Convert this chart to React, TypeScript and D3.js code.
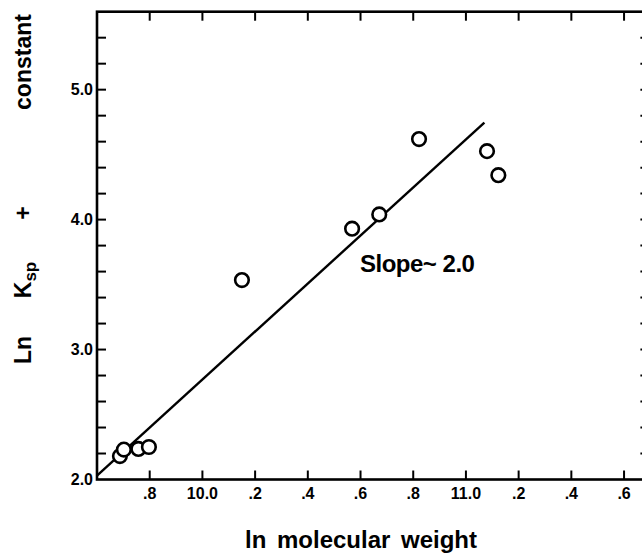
import * as d3 from "d3";

// ln molecular weight vs ln Ksp + constant
const lnMW = [9.687, 9.702, 9.757, 9.797, 10.15, 10.568, 10.671, 10.822, 11.08, 11.123];
const lnKsp = [2.18, 2.23, 2.235, 2.25, 3.535, 3.93, 4.04, 4.62, 4.527, 4.342];

// fitted line end points
const fitX = [9.6, 11.07];
const fitY = [2.03, 4.746];

const xTicks = [9.8, 10.0, 10.2, 10.4, 10.6, 10.8, 11.0, 11.2, 11.4, 11.6];
const xTickLabels = [".8", "10.0", ".2", ".4", ".6", ".8", "11.0", ".2", ".4", ".6"];
const yTicks = [2, 3, 4, 5];
const yTickLabels = ["2.0", "3.0", "4.0", "5.0"];
const yMinor = [2.2, 2.4, 2.6, 2.8, 3.0, 3.2, 3.4, 3.6, 3.8, 4.0, 4.2, 4.4, 4.6, 4.8, 5.0, 5.2, 5.4];

const W = 642;
const H = 555;
const FONT = "'Liberation Sans', Arial, sans-serif";

export default function App() {
  const x = d3.scaleLinear().domain([9.6, 11.7]).range([97, 650.4]);
  const y = d3.scaleLinear().domain([2, 5.6]).range([479.5, 11.7]);

  const [x0, x1] = x.range();
  const [yb, yt] = y.range();

  const line = d3
    .line<number>()
    .x((d) => x(d))
    .y((_, i) => y(fitY[i]));

  const tick = 9;

  return (
    <svg
      width={W}
      height={H}
      style={{ position: "absolute", left: 0, top: 0, background: "#fff" }}
      fontFamily={FONT}
    >
      {/* frame */}
      <rect x={x0} y={yt} width={x1 - x0} height={yb - yt} fill="none" stroke="#000" strokeWidth={2.6} />

      {/* x ticks, bottom and top, pointing inward */}
      {xTicks.map((t, i) => (
        <g key={"xt" + i}>
          <line x1={x(t)} x2={x(t)} y1={yb} y2={yb - tick} stroke="#000" strokeWidth={2} />
          <line x1={x(t)} x2={x(t)} y1={yt} y2={yt + tick} stroke="#000" strokeWidth={2} />
          <text x={x(t)} y={yb + 19} textAnchor="middle" fontSize={16} fontWeight="bold">
            {xTickLabels[i]}
          </text>
        </g>
      ))}

      {/* y ticks, left and right */}
      {yMinor.map((t, i) => (
        <g key={"yt" + i}>
          <line x1={x0} x2={x0 + tick} y1={y(t)} y2={y(t)} stroke="#000" strokeWidth={2} />
          <line x1={x1} x2={x1 - tick - 1} y1={y(t)} y2={y(t)} stroke="#000" strokeWidth={2} />
        </g>
      ))}
      {yTicks.map((t, i) => (
        <text key={"yl" + i} x={x0 - 4} y={y(t)} dy="0.36em" textAnchor="end" fontSize={16} fontWeight="bold">
          {yTickLabels[i]}
        </text>
      ))}

      {/* fitted line */}
      <path d={line(fitX) || ""} fill="none" stroke="#000" strokeWidth={2.4} />

      {/* data points */}
      {lnMW.map((d, i) => (
        <circle key={"p" + i} cx={x(d)} cy={y(lnKsp[i])} r={6.8} fill="#fff" stroke="#000" strokeWidth={2.6} />
      ))}

      <text x={360} y={272} fontSize={24} fontWeight="bold" letterSpacing={-0.5}>
        Slope~ 2.0
      </text>

      {/* axis titles */}
      <text x={361} y={548} textAnchor="middle" fontSize={24} fontWeight="bold" wordSpacing={4}>
        ln molecular weight
      </text>
      <g transform="translate(31,0) rotate(-90)" fontSize={23} fontWeight="bold">
        <text x={-350} textAnchor="middle">Ln</text>
        <text x={-280} textAnchor="middle">
          K<tspan fontSize={17} dy={5}>sp</tspan>
        </text>
        <text x={-213} textAnchor="middle">+</text>
        <text x={-62} textAnchor="middle">constant</text>
      </g>
    </svg>
  );
}
